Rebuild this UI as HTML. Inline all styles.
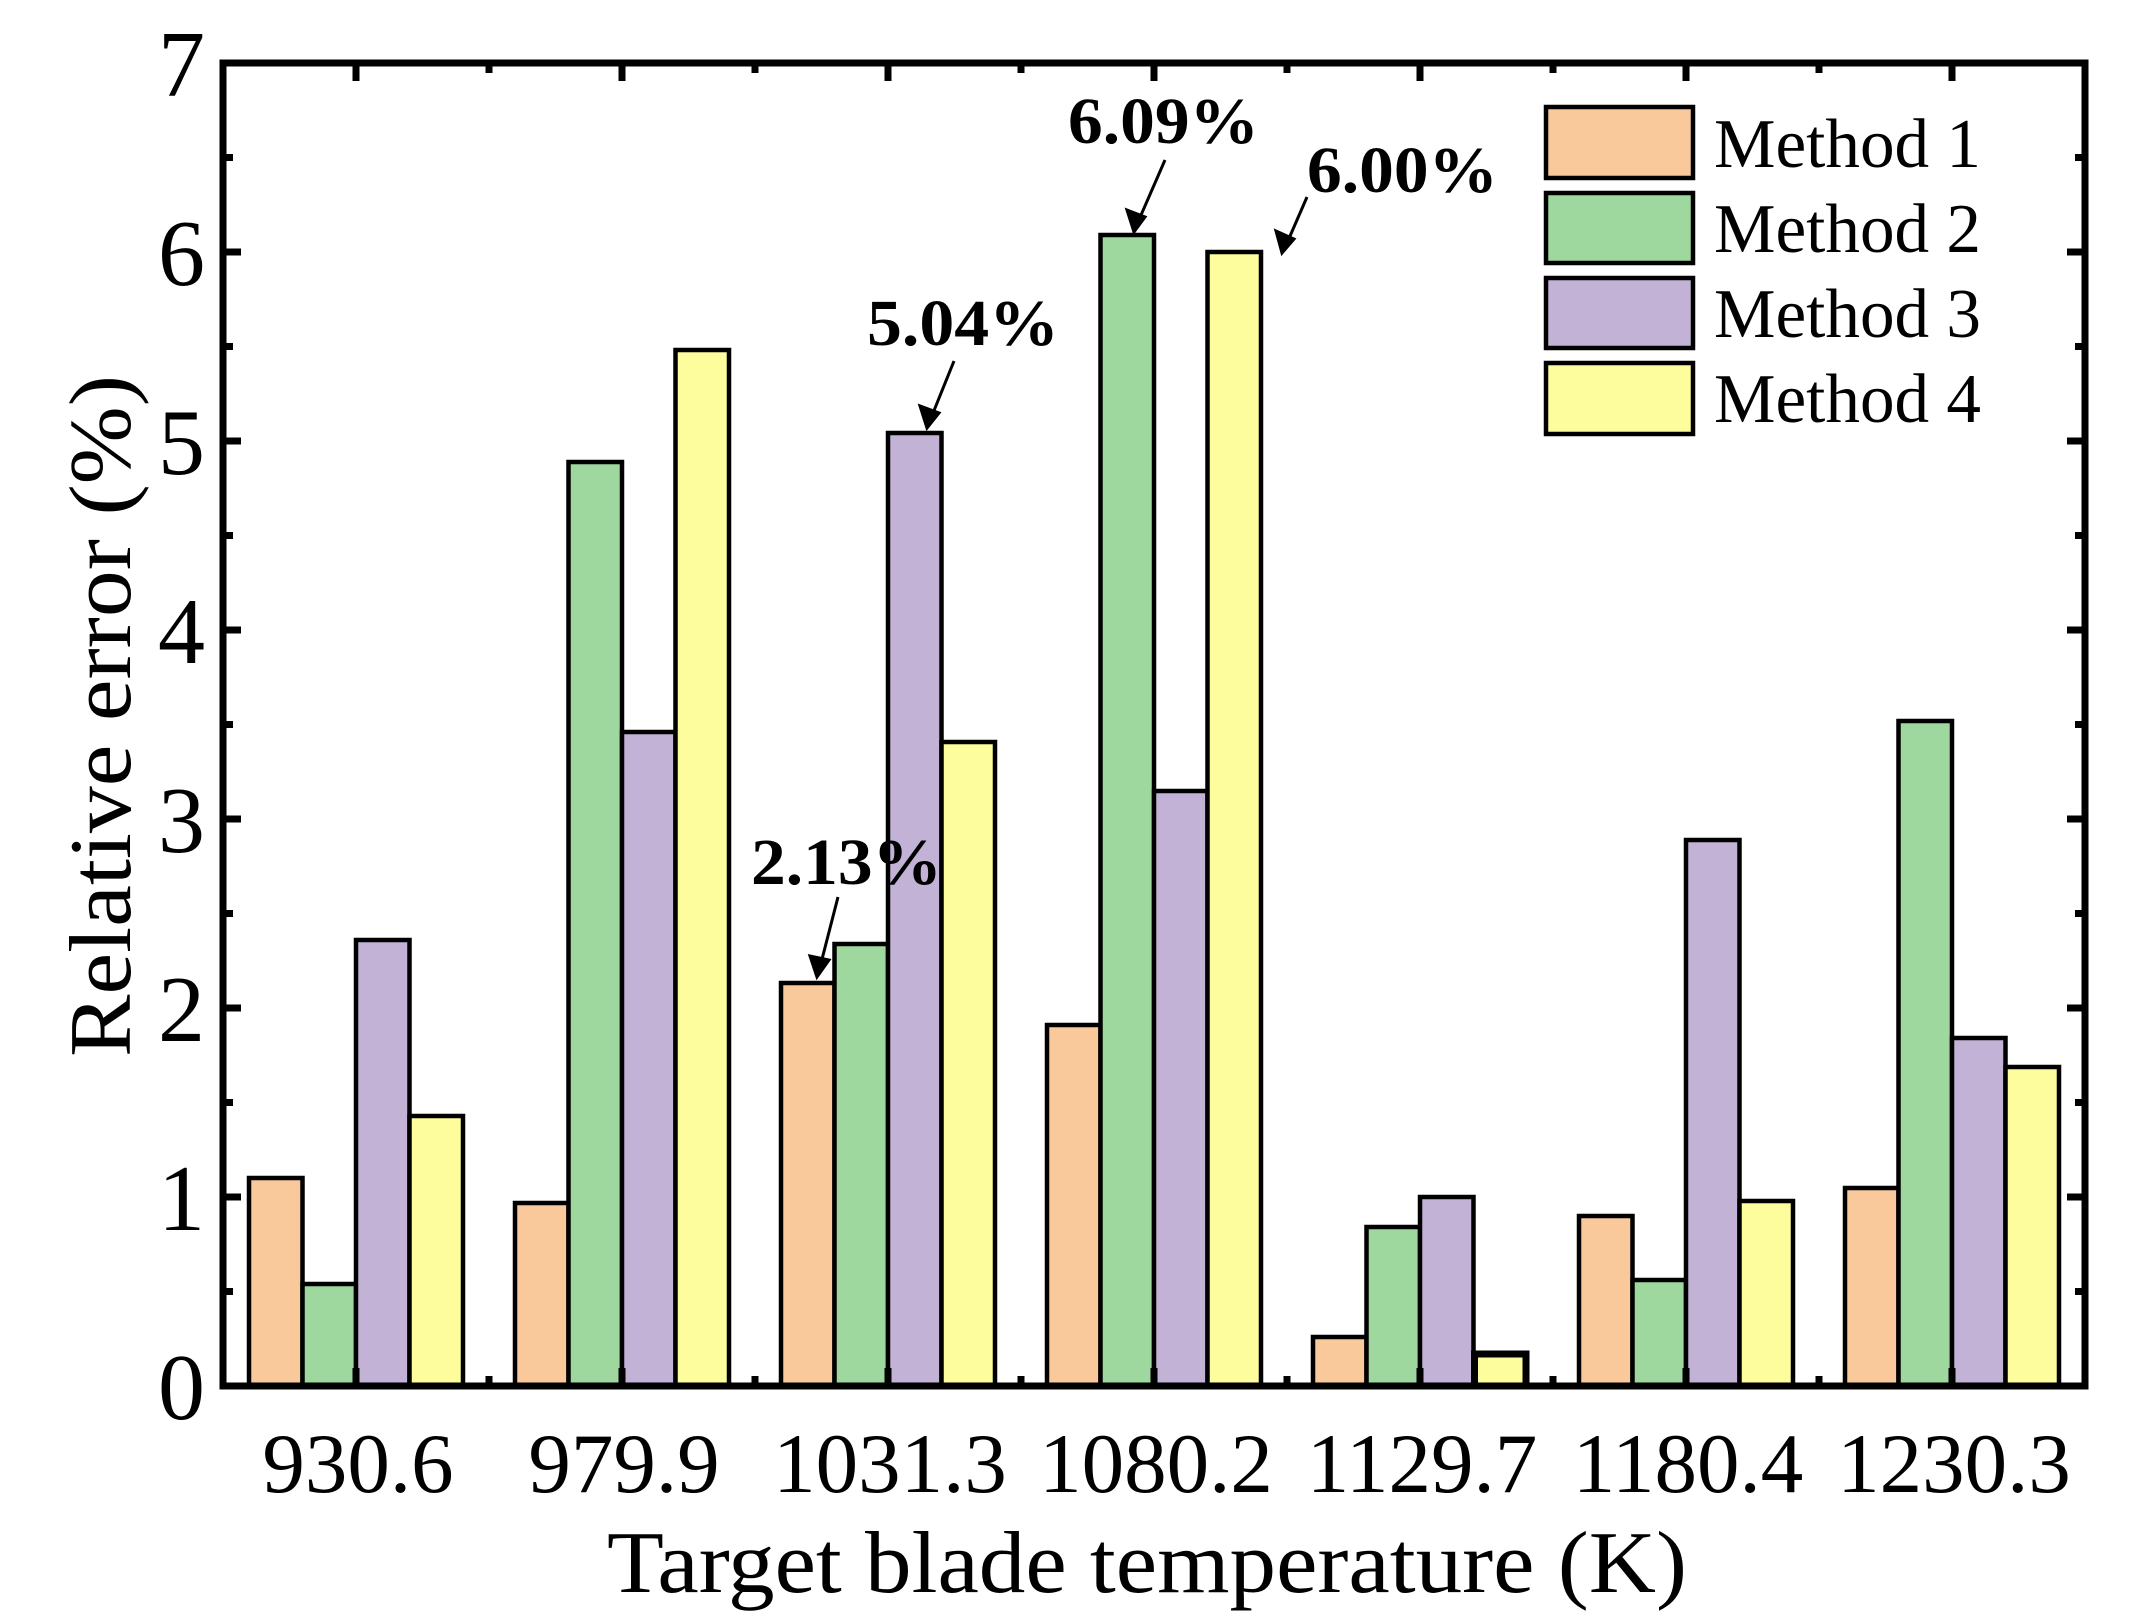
<!DOCTYPE html>
<html><head><meta charset="utf-8"><style>
html,body{margin:0;padding:0;background:#fff;}
svg{display:block;}
text{font-family:"Liberation Serif",serif;fill:#000;}
</style></head><body>
<svg width="2155" height="1621" viewBox="0 0 2155 1621" xmlns="http://www.w3.org/2000/svg">
<g stroke="#000" stroke-width="4.5">
<rect x="249" y="1178" width="53.5" height="208" fill="#f9c89b"/>
<rect x="302.5" y="1284" width="53.5" height="102" fill="#9fd89f"/>
<rect x="356" y="940" width="53.5" height="446" fill="#c2b2d6"/>
<rect x="409.5" y="1116" width="53.5" height="270" fill="#fdfd9d"/>
<rect x="515" y="1203" width="53.5" height="183" fill="#f9c89b"/>
<rect x="568.5" y="462" width="53.5" height="924" fill="#9fd89f"/>
<rect x="622" y="732" width="53.5" height="654" fill="#c2b2d6"/>
<rect x="675.5" y="350" width="53.5" height="1036" fill="#fdfd9d"/>
<rect x="781" y="983" width="53.5" height="403" fill="#f9c89b"/>
<rect x="834.5" y="944" width="53.5" height="442" fill="#9fd89f"/>
<rect x="888" y="433" width="53.5" height="953" fill="#c2b2d6"/>
<rect x="941.5" y="742" width="53.5" height="644" fill="#fdfd9d"/>
<rect x="1047" y="1025" width="53.5" height="361" fill="#f9c89b"/>
<rect x="1100.5" y="235" width="53.5" height="1151" fill="#9fd89f"/>
<rect x="1154" y="791" width="53.5" height="595" fill="#c2b2d6"/>
<rect x="1207.5" y="252" width="53.5" height="1134" fill="#fdfd9d"/>
<rect x="1313" y="1337" width="53.5" height="49" fill="#f9c89b"/>
<rect x="1366.5" y="1227" width="53.5" height="159" fill="#9fd89f"/>
<rect x="1420" y="1197" width="53.5" height="189" fill="#c2b2d6"/>
<rect x="1474.5" y="1354" width="51.5" height="32" fill="#fdfd9d" stroke-width="7"/>
<rect x="1579" y="1216" width="53.5" height="170" fill="#f9c89b"/>
<rect x="1632.5" y="1280" width="53.5" height="106" fill="#9fd89f"/>
<rect x="1686" y="840" width="53.5" height="546" fill="#c2b2d6"/>
<rect x="1739.5" y="1201" width="53.5" height="185" fill="#fdfd9d"/>
<rect x="1845" y="1188" width="53.5" height="198" fill="#f9c89b"/>
<rect x="1898.5" y="721" width="53.5" height="665" fill="#9fd89f"/>
<rect x="1952" y="1038" width="53.5" height="348" fill="#c2b2d6"/>
<rect x="2005.5" y="1067" width="53.5" height="319" fill="#fdfd9d"/>
</g>
<rect x="223" y="63" width="1862" height="1323" fill="none" stroke="#000" stroke-width="7"/>
<g stroke="#000" stroke-width="7" fill="none">
<path d="M223 1197h18M223 1008h18M223 819h18M223 630h18M223 441h18M223 252h18
M223 1291.5h10M223 1102.5h10M223 913.5h10M223 724.5h10M223 535.5h10M223 346.5h10M223 157.5h10
M2085 1197h-18M2085 1008h-18M2085 819h-18M2085 630h-18M2085 441h-18M2085 252h-18
M2085 1291.5h-10M2085 1102.5h-10M2085 913.5h-10M2085 724.5h-10M2085 535.5h-10M2085 346.5h-10M2085 157.5h-10
M356 1386v-18M622 1386v-18M888 1386v-18M1154 1386v-18M1420 1386v-18M1686 1386v-18M1952 1386v-18
M489 1386v-10M755 1386v-10M1021 1386v-10M1287 1386v-10M1553 1386v-10M1819 1386v-10
M356 63v18M622 63v18M888 63v18M1154 63v18M1420 63v18M1686 63v18M1952 63v18
M489 63v10M755 63v10M1021 63v10M1287 63v10M1553 63v10M1819 63v10"/>
</g>
<g font-size="94" text-anchor="end">
<text x="205" y="1419">0</text>
<text x="205" y="1230">1</text>
<text x="205" y="1041">2</text>
<text x="205" y="852">3</text>
<text x="205" y="663">4</text>
<text x="205" y="474">5</text>
<text x="205" y="285">6</text>
<text x="205" y="96">7</text>
</g>
<g font-size="85" text-anchor="middle">
<text x="358" y="1492">930.6</text>
<text x="624" y="1492">979.9</text>
<text x="890" y="1492">1031.3</text>
<text x="1156" y="1492">1080.2</text>
<text x="1422" y="1492">1129.7</text>
<text x="1688" y="1492">1180.4</text>
<text x="1954" y="1492">1230.3</text>
</g>
<text x="607" y="1592" font-size="88" textLength="1080" lengthAdjust="spacingAndGlyphs">Target blade temperature (K)</text>
<text transform="translate(130,716) rotate(-90)" font-size="88" text-anchor="middle" textLength="682" lengthAdjust="spacingAndGlyphs">Relative error (%)</text>
<g stroke="#000" stroke-width="4.5">
<rect x="1546" y="107" width="147" height="71" fill="#f9c89b"/>
<rect x="1546" y="193" width="147" height="70" fill="#9fd89f"/>
<rect x="1546" y="278" width="147" height="70" fill="#c2b2d6"/>
<rect x="1546" y="363" width="147" height="71" fill="#fdfd9d"/>
</g>
<g font-size="70">
<text x="1714" y="167" textLength="267" lengthAdjust="spacingAndGlyphs">Method 1</text>
<text x="1714" y="252" textLength="267" lengthAdjust="spacingAndGlyphs">Method 2</text>
<text x="1714" y="337" textLength="267" lengthAdjust="spacingAndGlyphs">Method 3</text>
<text x="1714" y="422" textLength="267" lengthAdjust="spacingAndGlyphs">Method 4</text>
</g>
<g font-size="66" font-weight="bold">
<text x="1068" y="143" textLength="191" lengthAdjust="spacingAndGlyphs">6.09%</text>
<text x="1307" y="192" textLength="191" lengthAdjust="spacingAndGlyphs">6.00%</text>
<text x="867" y="345" textLength="192" lengthAdjust="spacingAndGlyphs">5.04%</text>
<text x="751" y="884" textLength="191" lengthAdjust="spacingAndGlyphs">2.13%</text>
</g>
<g stroke="#000" stroke-width="3" fill="#000">
<line x1="1165" y1="160" x2="1138" y2="222"/>
<path d="M1134 232 L1127 210 L1145 217 Z"/>
<line x1="1307" y1="197" x2="1287" y2="243"/>
<path d="M1282 253 L1276 231 L1294 239 Z"/>
<line x1="954" y1="361" x2="931" y2="418"/>
<path d="M927 428 L920 406 L939 413 Z"/>
<line x1="838" y1="897" x2="820" y2="967"/>
<path d="M817 977 L810 956 L829 960 Z"/>
</g>
</svg>
</body></html>
